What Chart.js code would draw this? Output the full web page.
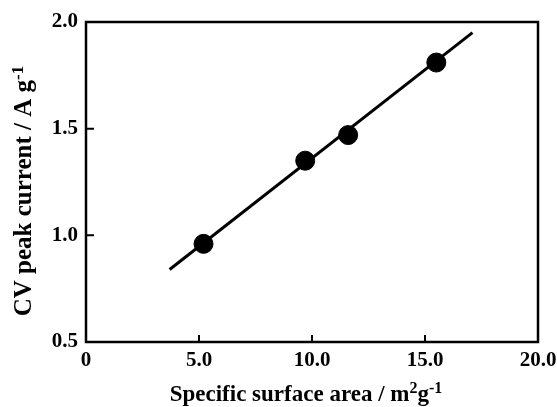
<!DOCTYPE html>
<html>
<head>
<meta charset="utf-8">
<script src="https://cdn.jsdelivr.net/npm/chart.js@4/dist/chart.umd.min.js"></script>
<style>
html,body{margin:0;padding:0;background:#fff;}
#wrap{width:557px;height:407px;}
</style>
</head>
<body>
<div id="wrap"><canvas id="c" width="557" height="407"></canvas></div>
<script>
const surfaceArea = [5.2, 9.7, 11.6, 15.5];
const peakCurrent = [0.96, 1.35, 1.47, 1.81];
const fitX = [3.7, 17.1];
const fitY = [0.84, 1.95];
const xTicks = [0, 5, 10, 15, 20];
const xTickLabels = ['0', '5.0', '10.0', '15.0', '20.0'];
const yTicks = [0.5, 1.0, 1.5, 2.0];
const yTickLabels = ['0.5', '1.0', '1.5', '2.0'];
const xTitleParts = [{t: 'Specific surface area / m'}, {t: '2', sup: true}, {t: 'g'}, {t: '-1', sup: true}];
const yTitleParts = [{t: 'CV peak current / A g'}, {t: '-1', sup: true}];

const FONT = '"Liberation Serif", "Times New Roman", serif';

function drawRich(ctx, parts, cx, baseY, size) {
  const big = 'bold ' + size + 'px ' + FONT, small = 'bold ' + Math.round(size * 0.68) + 'px ' + FONT;
  let w = 0;
  parts.forEach(p => { ctx.font = p.sup ? small : big; w += ctx.measureText(p.t).width; });
  let x = cx - w / 2;
  ctx.textBaseline = 'alphabetic';
  ctx.textAlign = 'left';
  parts.forEach(p => {
    ctx.font = p.sup ? small : big;
    ctx.fillText(p.t, x, p.sup ? baseY - size * 0.33 : baseY);
    x += ctx.measureText(p.t).width;
  });
}

const frame = {
  id: 'frame',
  afterDraw(chart) {
    const {ctx, chartArea: a, scales: {x, y}} = chart;
    ctx.save();
    ctx.strokeStyle = '#000';
    ctx.lineWidth = 2.5;
    ctx.strokeRect(a.left, a.top, a.right - a.left, a.bottom - a.top);
    ctx.lineWidth = 2;
    ctx.beginPath();
    xTicks.forEach(v => {
      const px = x.getPixelForValue(v);
      ctx.moveTo(px, a.bottom);
      ctx.lineTo(px, a.bottom - 7);
    });
    yTicks.forEach(v => {
      const py = y.getPixelForValue(v);
      ctx.moveTo(a.left, py);
      ctx.lineTo(a.left + 8, py);
    });
    ctx.stroke();
    ctx.fillStyle = '#000';
    drawRich(ctx, xTitleParts, (a.left + a.right) / 2 - 6, 401, 23);
    ctx.translate(31, (a.top + a.bottom) / 2 + 9);
    ctx.rotate(-Math.PI / 2);
    drawRich(ctx, yTitleParts, 0, 0, 25);
    ctx.restore();
  }
};

new Chart(document.getElementById('c'), {
  type: 'scatter',
  data: {
    datasets: [
      {
        label: 'fit',
        data: fitX.map((v, i) => ({x: v, y: fitY[i]})),
        showLine: true,
        borderColor: '#000',
        borderWidth: 3,
        pointRadius: 0,
        fill: false,
        order: 2
      },
      {
        label: 'data',
        data: surfaceArea.map((v, i) => ({x: v, y: peakCurrent[i]})),
        backgroundColor: '#000',
        borderColor: '#000',
        pointRadius: 9.5,
        pointHoverRadius: 9.5,
        order: 1
      }
    ]
  },
  options: {
    responsive: false,
    animation: false,
    layout: {padding: {top: 22, right: 19, left: 0, bottom: 0}},
    plugins: {legend: {display: false}, tooltip: {enabled: false}},
    scales: {
      x: {
        type: 'linear',
        min: 0, max: 20,
        afterBuildTicks: s => { s.ticks = xTicks.map(v => ({value: v})); },
        afterFit: s => { s.height = 65; s.paddingRight = 0; s.paddingLeft = 0; },
        grid: {display: false, drawTicks: false},
        border: {display: false},
        ticks: {
          padding: 6,
          color: '#000',
          font: {family: FONT, size: 21, weight: 'bold'},
          maxRotation: 0,
          callback: (v) => xTickLabels[xTicks.indexOf(v)]
        },
        title: {display: false}
      },
      y: {
        type: 'linear',
        min: 0.5, max: 2.0,
        afterBuildTicks: s => { s.ticks = yTicks.map(v => ({value: v})); },
        afterFit: s => { s.width = 86; s.paddingTop = 0; s.paddingBottom = 0; },
        grid: {display: false, drawTicks: false},
        border: {display: false},
        ticks: {
          padding: 8,
          color: '#000',
          font: {family: FONT, size: 21, weight: 'bold'},
          callback: (v) => yTickLabels[yTicks.indexOf(v)]
        },
        title: {display: false}
      }
    }
  },
  plugins: [frame]
});
</script>
</body>
</html>
